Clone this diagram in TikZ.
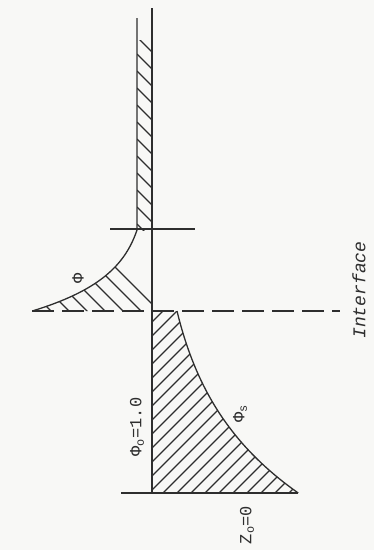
\documentclass[tikz,border=0pt]{standalone}
\usepackage{fontspec}
\setmonofont{Liberation Mono}
\usepackage{tikz}
\usepackage{xcolor}
\definecolor{profInk}{HTML}{2E2E2E}
\definecolor{profPaper}{HTML}{F8F8F6}

\begin{document}
\begin{tikzpicture}[x=1pt,y=-1pt, line width=1.3pt, profInk,
    every node/.style={font=\ttfamily\fontsize{17}{17}\selectfont, text=profInk},
    hatchline/.style={line width=1.1pt}]
  \fill[profPaper] (0,0) rectangle (374,550);
  \useasboundingbox (0,0) rectangle (374,550);
  % thin layer, far from the interface
  \begin{scope}
    \clip (137,40) rectangle (152,230);
    \foreach \k in {20,37,...,240} \draw[hatchline] (137,\k) -- ++(40,40);
  \end{scope}
  % phase above the interface
  \begin{scope}
    \clip (152,230) -- plot[domain=230:311, samples=50] ({137-12.1*(exp(0.028*(\x-230))-1)},{\x}) -- (152,311) -- cycle;
    \foreach \k in {-150,-132,...,60} \draw[hatchline] (\k,200) -- ++(160,160);
  \end{scope}
  % substrate side
  \begin{scope}
    \clip (152,311) -- plot[domain=311:493, samples=50] ({152+25*exp(0.0097*(\x-311))},{\x}) -- (152,493) -- cycle;
    \foreach \k in {-40,-26,...,320} \draw[hatchline] (\k,500) -- ++(200,-200);
  \end{scope}
  % outlines
  \draw (152,8) -- (152,493);
  \draw (137,18) -- (137,230)
    plot[domain=230:311, samples=50] ({137-12.1*(exp(0.028*(\x-230))-1)},{\x});
  \draw plot[domain=311:493, samples=50] ({152+25*exp(0.0097*(\x-311))},{\x});
  \draw (110,229) -- (195,229);
  \draw (121,493) -- (298,493);
  \draw[dash pattern=on 22pt off 8pt] (32,311) -- (340,311);
  % labels
  \node[rotate=90] (phiUp) at (78,278) {Φ};
  \node[rotate=90] (phiZero) at (137,427) {Φ\textsubscript{o}=1.0};
  \node[rotate=90] (phiS) at (240,414) {Φ\textsubscript{s}};
  \node[rotate=90] (zZero) at (247,525) {Z\textsubscript{o}=0};
  \node[rotate=90, font=\ttfamily\itshape\fontsize{18}{18}\selectfont] (iface) at (359,290) {Interface};
\end{tikzpicture}
\end{document}
